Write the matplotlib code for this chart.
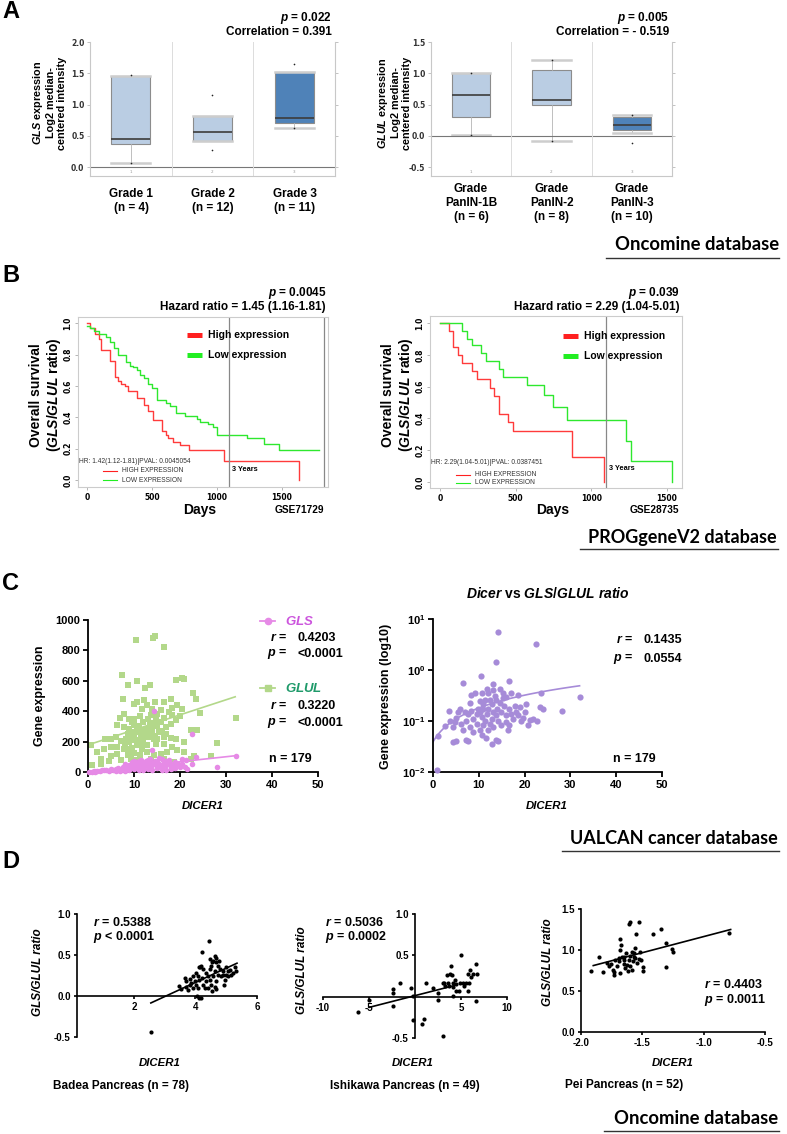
import numpy as np
import matplotlib.pyplot as plt
from matplotlib.lines import Line2D

W, H = 787, 1134
plt.rcParams['font.family'] = ['Liberation Sans', 'DejaVu Sans']
plt.rcParams['mathtext.fontset'] = 'custom'
plt.rcParams['mathtext.rm'] = 'Liberation Sans:bold'
plt.rcParams['mathtext.it'] = 'Liberation Sans:italic:bold'
plt.rcParams['mathtext.bf'] = 'Liberation Sans:bold'

# ---------------- data ----------------
# A: Oncomine box plots (q1, median, q3, whisker low, whisker high), plus min/max dots
gls_grades = ['Grade 1\n(n = 4)', 'Grade 2\n(n = 12)', 'Grade 3\n(n = 11)']
gls_q1 = [0.37, 0.42, 0.70]
gls_med = [0.45, 0.57, 0.78]
gls_q3 = [1.46, 0.82, 1.52]
gls_wlo = [0.07, 0.42, 0.63]
gls_whi = [1.46, 0.82, 1.52]
gls_dots = [[1.47, 0.07], [1.15, 0.27], [1.65, 0.62]]

glul_grades = ['Grade\nPanIN-1B\n(n = 6)', 'Grade\nPanIN-2\n(n = 8)', 'Grade\nPanIN-3\n(n = 10)']
glul_q1 = [0.30, 0.49, 0.10]
glul_med = [0.66, 0.57, 0.18]
glul_q3 = [1.01, 1.06, 0.30]
glul_wlo = [0.01, -0.08, 0.04]
glul_whi = [1.01, 1.21, 0.33]
glul_dots = [[1.01, 0.01], [1.21, -0.08], [0.33, -0.11]]

# B: Kaplan-Meier curves (days, survival)
km1_high_t = [0, 20, 59, 90, 111, 175, 214, 239, 265, 291, 316, 388, 440, 470, 509, 574, 605, 625, 659, 715, 787, 1057, 1628]
km1_high_s = [1.0, 0.97, 0.93, 0.90, 0.83, 0.76, 0.66, 0.63, 0.61, 0.60, 0.57, 0.52, 0.48, 0.44, 0.385, 0.31, 0.29, 0.27, 0.24, 0.22, 0.19, 0.12, 0.0]
km1_low_t = [0, 21, 54, 93, 149, 175, 208, 239, 298, 329, 355, 381, 406, 440, 466, 497, 535, 605, 638, 682, 754, 844, 870, 934, 972, 998, 1230, 1358, 1474, 1783]
km1_low_s = [0.98, 0.97, 0.95, 0.93, 0.91, 0.88, 0.84, 0.80, 0.75, 0.73, 0.72, 0.70, 0.67, 0.65, 0.61, 0.59, 0.51, 0.49, 0.47, 0.43, 0.41, 0.39, 0.37, 0.36, 0.34, 0.29, 0.27, 0.23, 0.19, 0.19]
km2_high_t = [0, 59, 88, 117, 145, 209, 242, 330, 358, 389, 451, 484, 869, 1082]
km2_high_s = [1.0, 0.95, 0.85, 0.80, 0.75, 0.70, 0.65, 0.59, 0.54, 0.43, 0.38, 0.32, 0.16, 0.0]
km2_low_t = [0, 147, 180, 209, 268, 303, 391, 418, 572, 688, 748, 842, 1232, 1260, 1535]
km2_low_s = [1.0, 0.95, 0.90, 0.86, 0.81, 0.76, 0.71, 0.66, 0.61, 0.55, 0.47, 0.39, 0.26, 0.13, 0.0]

# C: UALCAN scatter
glul_pts = [(10.4, 866), (14.2, 882), (14.6, 893), (16.5, 822), (7.3, 636), (10.7, 596), (8.6, 575), (13.5, 575),
            (12.3, 553), (19.2, 603), (20.5, 621), (20.9, 614), (22.9, 522), (23.4, 478), (7.5, 478), (9.9, 450),
            (10.7, 461), (12.2, 471), (14.5, 461), (16.5, 461), (18.0, 482), (19.4, 439), (20.5, 412), (18.3, 421),
            (17.6, 395), (15.8, 406), (14.0, 417), (12.9, 439), (11.8, 417), (7.8, 384), (7.0, 355), (8.9, 351),
            (10.0, 351), (11.3, 368), (13.6, 373), (15.1, 384), (16.5, 355), (18.3, 377), (20.1, 368), (24.3, 390),
            (32.1, 355), (6.4, 307), (7.8, 296), (8.9, 285), (10.0, 311), (10.7, 296), (11.8, 274), (12.9, 285),
            (14.0, 307), (14.7, 340), (15.8, 329), (16.9, 296), (18.0, 318), (19.1, 340), (8.6, 252), (10.0, 237),
            (11.1, 263), (12.5, 241), (13.6, 252), (15.4, 263), (16.5, 230), (18.0, 224), (19.1, 219), (20.9, 197),
            (22.3, 274), (23.6, 274), (4.9, 219), (6.0, 230), (7.1, 202), (8.2, 219), (9.3, 208), (11.8, 208),
            (14.3, 219), (3.8, 215), (0.6, 175), (3.5, 154), (4.9, 164), (6.4, 164), (7.8, 154), (9.6, 158),
            (10.7, 175), (11.8, 154), (12.9, 175), (14.7, 186), (16.5, 186), (18.3, 164), (19.4, 143), (20.9, 132),
            (28.1, 191), (2.0, 132), (2.8, 88), (4.9, 105), (6.4, 121), (8.6, 110), (10.0, 127), (11.4, 114),
            (12.9, 132), (14.3, 110), (15.8, 121), (17.2, 132), (22.3, 88), (26.7, 105), (0.9, 44), (2.8, 55),
            (4.6, 70), (7.1, 77), (9.3, 88), (10.7, 77), (13.6, 88), (16.5, 83), (23.0, 105), (18.7, 66),
            (9.0, 200), (10.0, 260), (11.0, 300), (12.0, 330), (13.0, 230), (14.0, 270), (15.0, 300), (9.5, 330),
            (12.0, 190), (13.0, 350), (15.0, 220), (10.5, 210), (11.5, 240), (12.5, 280), (13.5, 320), (14.5, 240),
            (8.0, 180), (9.0, 150), (16.0, 270), (17.0, 250)]
gls_pts = [(14.3, 399), (22.5, 252), (14.0, 143), (28.1, 33), (32.1, 105), (23.4, 99), (21.2, 77), (20.5, 88),
           (22.7, 55), (0.3, 2), (0.8, 3), (1.2, 5), (1.5, 2), (2.0, 8), (2.5, 5), (3.0, 12), (3.5, 10), (4.0, 15),
           (4.5, 8), (5.0, 18), (5.5, 12), (6.0, 20), (6.5, 25), (7.0, 15), (7.5, 30), (8.0, 22), (8.5, 35),
           (9.0, 28), (9.0, 45), (9.5, 40), (10.0, 30), (10.0, 55), (10.5, 60), (10.5, 42), (11.0, 35), (11.0, 70),
           (11.5, 50), (12.0, 25), (12.0, 62), (12.5, 45), (13.0, 55), (13.0, 80), (13.5, 38), (14.0, 60),
           (14.0, 48), (14.5, 72), (15.0, 40), (15.0, 65), (15.5, 55), (16.0, 30), (16.0, 85), (16.5, 50),
           (17.0, 70), (17.0, 45), (17.5, 60), (18.0, 35), (18.0, 55), (18.5, 40), (19.0, 65), (19.5, 50),
           (20.0, 45), (20.0, 30), (20.5, 55), (21.0, 35), (21.5, 20), (8.0, 50), (9.5, 65), (10.0, 75),
           (11.5, 80), (12.5, 70), (13.5, 85), (15.5, 90), (16.5, 75), (17.5, 80), (12.0, 10), (13.0, 20),
           (14.0, 15), (15.0, 25), (16.0, 12), (11.0, 15), (10.0, 18), (9.0, 10), (8.0, 8), (7.0, 5), (6.0, 6),
           (18.0, 20), (19.0, 25), (17.0, 15)]
ratio_pts = [(14.2, 5.6), (22.4, 3.3), (13.7, 1.44), (10.4, 0.76), (6.6, 0.55), (16.6, 0.60), (13.0, 0.54),
             (32.0, 0.30), (28.1, 0.16), (23.5, 0.35), (24.0, 0.175), (23.3, 0.19), (3.5, 0.16), (20.4, 0.22),
             (0.8, 0.011), (1.1, 0.05), (2.6, 0.08), (4.3, 0.039), (5.0, 0.040), (7.2, 0.042), (7.7, 0.040),
             (12.9, 0.035), (14.3, 0.040), (13.8, 0.042), (10.6, 0.052), (11.5, 0.047), (16.4, 0.066),
             (19.3, 0.10), (20.7, 0.083), (22.7, 0.10), (18.6, 0.33), (17.1, 0.35), (14.6, 0.42), (11.7, 0.42),
             (8.4, 0.33), (9.1, 0.36), (10.6, 0.36), (13.5, 0.31), (15.3, 0.35), (16.0, 0.30), (8.0, 0.23),
             (5.8, 0.17), (6.9, 0.15), (5.1, 0.115), (3.7, 0.10), (4.4, 0.076), (6.2, 0.089), (7.3, 0.10),
             (6.6, 0.066), (8.0, 0.076), (8.75, 0.060), (10.2, 0.066), (10.9, 0.083), (12.0, 0.066),
             (13.1, 0.076), (14.9, 0.083), (16.0, 0.096), (17.5, 0.11), (18.2, 0.15), (19.6, 0.115),
             (18.9, 0.19), (17.8, 0.20), (16.7, 0.17), (15.6, 0.20), (14.6, 0.23), (13.9, 0.17), (12.8, 0.22),
             (12.0, 0.17), (10.9, 0.22), (9.8, 0.17), (9.5, 0.14), (10.6, 0.12), (11.7, 0.14), (12.8, 0.11),
             (13.8, 0.13), (14.9, 0.15), (16.0, 0.13), (17.1, 0.14), (18.6, 0.13), (8.75, 0.11), (7.7, 0.14),
             (11.3, 0.10), (12.4, 0.089), (14.2, 0.10), (16.7, 0.083), (9.5, 0.089), (8.4, 0.16), (11.3, 0.26),
             (12.4, 0.26), (13.8, 0.26), (10.2, 0.25), (15.2, 0.28), (21.1, 0.107), (20.0, 0.15), (21.8, 0.11),
             (5.5, 0.15), (4.8, 0.096), (10.2, 0.15), (13.1, 0.15), (10.9, 0.17), (12.0, 0.35), (13.1, 0.40)]
gls_fit = (2.0, 3.28)      # intercept, slope
glul_fit = (178.0, 9.9)
ratio_fit = (0.039, 0.0141)
fit_x = [0, 32]

# D: Oncomine correlations
badea_pts = [(4.44, 0.675), (4.21, 0.54), (2.56, -0.44), (4.62, 0.49), (4.57, 0.43), (4.68, 0.41), (4.73, 0.37),
             (4.51, 0.37), (4.46, 0.33), (4.62, 0.30), (4.79, 0.33), (4.89, 0.30), (5.0, 0.35), (5.11, 0.32),
             (5.27, 0.35), (5.33, 0.30), (5.16, 0.26), (5.06, 0.24), (4.89, 0.26), (4.73, 0.26), (4.57, 0.24),
             (4.41, 0.24), (4.24, 0.33), (4.19, 0.37), (4.14, 0.35), (4.08, 0.24), (4.35, 0.18), (4.46, 0.20),
             (4.68, 0.18), (4.52, 0.14), (4.62, 0.11), (4.68, 0.08), (4.24, 0.14), (4.11, 0.20), (3.97, 0.18),
             (3.86, 0.16), (3.70, 0.18), (3.65, 0.22), (3.81, 0.14), (4.03, 0.13), (4.08, 0.10), (3.92, 0.10),
             (3.76, 0.07), (3.54, 0.09), (4.05, 0.0), (4.11, -0.03), (4.19, -0.02), (4.93, 0.13), (4.30, 0.10),
             (4.41, 0.10), (4.84, 0.24), (4.95, 0.20), (5.0, 0.26), (4.54, 0.41), (4.46, 0.45), (4.66, 0.46),
             (4.76, 0.43), (4.11, 0.35), (3.92, 0.24), (3.81, 0.21), (5.06, 0.30), (5.22, 0.28), (4.35, 0.28),
             (4.22, 0.22), (4.01, 0.28), (4.54, 0.06), (3.68, 0.11), (3.46, 0.12)]
ishikawa_pts = [(5.05, 0.50), (-4.98, -0.04), (-6.2, -0.19), (-2.35, 0.09), (-2.35, 0.04), (-2.35, -0.11),
                (-1.62, 0.16), (-0.43, 0.10), (-0.18, 0.01), (-0.18, -0.28), (0.72, -0.33), (1.01, -0.27),
                (1.16, 0.17), (1.99, 0.11), (2.53, 0.04), (2.53, -0.04), (3.07, -0.47), (3.14, 0.17), (3.43, 0.26),
                (3.79, 0.27), (3.86, 0.37), (3.61, 0.16), (4.08, 0.12), (4.08, 0.01), (4.51, 0.07), (4.80, 0.07),
                (4.33, 0.20), (4.87, 0.17), (5.23, 0.16), (5.52, 0.16), (5.78, 0.28), (5.88, 0.17), (6.14, 0.24),
                (6.32, 0.28), (6.61, 0.39), (6.68, -0.05), (6.75, 0.27), (5.78, 0.07), (3.25, 0.13), (3.72, 0.13),
                (4.15, 0.17), (5.31, 0.13), (5.96, 0.32), (3.0, 0.17), (4.5, 0.15), (3.97, 0.26)]
pei_pts = [(-1.916, 0.74), (-1.856, 0.915), (-1.824, 0.73), (-1.79, 0.84), (-1.756, 0.83), (-1.74, 0.76),
           (-1.73, 0.73), (-1.71, 0.80), (-1.69, 0.86), (-1.685, 0.72), (-1.68, 1.0), (-1.67, 1.065),
           (-1.68, 1.135), (-1.65, 0.83), (-1.647, 0.88), (-1.63, 0.96), (-1.626, 0.82), (-1.61, 0.88),
           (-1.604, 0.93), (-1.6, 0.80), (-1.607, 1.32), (-1.6, 1.34), (-1.585, 0.98), (-1.577, 0.87),
           (-1.57, 0.92), (-1.558, 1.02), (-1.558, 0.90), (-1.53, 0.89), (-1.53, 1.34), (-1.55, 1.19),
           (-1.51, 0.88), (-1.517, 0.98), (-1.496, 0.79), (-1.496, 0.74), (-1.417, 1.19), (-1.35, 1.26),
           (-1.306, 1.085), (-1.306, 0.79), (-1.26, 1.01), (-1.246, 0.98), (-0.793, 1.21), (-1.72, 0.88),
           (-1.666, 0.92), (-1.64, 0.78), (-1.69, 0.90), (-1.544, 0.84), (-1.585, 0.76), (-1.734, 0.70),
           (-1.775, 0.80), (-1.62, 0.74), (-1.566, 0.96), (-1.653, 0.92)]
badea_fit_x, badea_fit_y = [2.55, 5.35], [-0.085, 0.40]
ishikawa_fit_x, ishikawa_fit_y = [-5.0, 4.3], [-0.13, 0.135]
pei_fit_x, pei_fit_y = [-1.9, -0.78], [0.81, 1.25]

# ---------------- helpers ----------------
fig = plt.figure(figsize=(W / 100, H / 100), dpi=100)


def add_ax(x0, y0, x1, y1):
    return fig.add_axes([x0 / W, 1 - y1 / H, (x1 - x0) / W, (y1 - y0) / H])


def ftext(x, y, s, **kw):
    kw.setdefault('va', 'center')
    kw.setdefault('fontweight', 'bold')
    kw.setdefault('fontsize', 8.5)
    fig.text(x / W, 1 - y / H, s, **kw)


def fline(x0, x1, y, **kw):
    fig.add_artist(Line2D([x0 / W, x1 / W], [1 - y / H, 1 - y / H], transform=fig.transFigure, **kw))


def oncomine_box(ax, q1, med, q3, wlo, whi, dots, ylim, yticks):
    stats = [dict(q1=a, med=b, q3=c, whislo=d, whishi=e, fliers=[]) for a, b, c, d, e in zip(q1, med, q3, wlo, whi)]
    bx = ax.bxp(stats, positions=[1, 2, 3], widths=0.48, patch_artist=True, showfliers=False, capwidths=0.48,
                boxprops=dict(edgecolor='#8c8c8c', linewidth=0.8),
                medianprops=dict(color='#3c3c3c', linewidth=1.2),
                whiskerprops=dict(color='#b4b4b4', linewidth=0.6),
                capprops=dict(color='#cdcdcd', linewidth=1.8), manage_ticks=False)
    for i, p in enumerate(bx['boxes']):
        p.set_facecolor('#4f82b8' if i == 2 else '#bacde3')
    for i, d in enumerate(dots):
        ax.plot([i + 1] * len(d), d, 'o', color='#222222', ms=1.2, mew=0)
    ax.axhline(0, color='#777777', lw=0.8)
    for xs in (1.5, 2.5):
        ax.axvline(xs, color='#dcdcdc', lw=0.7)
    ax.set_xlim(0.5, 3.5)
    ax.set_ylim(*ylim)
    ax.set_xticks([])
    ax.set_yticks(yticks)
    ax.set_yticklabels(['%.1f' % v for v in yticks], fontsize=5.5, fontweight='bold', family='DejaVu Sans',
                       color='#333333')
    ax.tick_params(axis='y', length=2, width=0.5, color='#aaaaaa', pad=2, right=True)
    ax.spines['top'].set_visible(False)
    for s in ('left', 'right', 'bottom'):
        ax.spines[s].set_color('#c8c8c8')
        ax.spines[s].set_linewidth(0.8)
    for i in range(3):
        ax.text(i + 1, ylim[0] + 0.03 * (ylim[1] - ylim[0]), str(i + 1), fontsize=3, color='#999999',
                ha='center', va='center', family='DejaVu Sans')


def km_panel(ax, high_t, high_s, low_t, low_s, xlim, ylim, five_year):
    ax.step(high_t, high_s, where='post', color='#ff3b3b', lw=1.0)
    ax.step(low_t, low_s, where='post', color='#2ee82e', lw=1.0)
    ax.axvline(1095, color='#888888', lw=0.9)
    if five_year:
        ax.axvline(1825, color='#888888', lw=0.9)
    ax.set_xlim(*xlim)
    ax.set_ylim(*ylim)
    ax.set_xticks([0, 500, 1000, 1500])
    ax.set_yticks([0, 0.2, 0.4, 0.6, 0.8, 1.0])
    ax.set_xticklabels(['0', '500', '1000', '1500'], fontsize=5.5, fontweight='bold', family='DejaVu Sans')
    ax.set_yticklabels(['0.0', '0.2', '0.4', '0.6', '0.8', '1.0'], fontsize=5.5, fontweight='bold',
                       family='DejaVu Sans', rotation=90, va='center')
    ax.tick_params(length=2, width=0.5, color='#999999', pad=2)
    for s in ax.spines.values():
        s.set_color('#cccccc')
        s.set_linewidth(0.8)


def prism_axes(ax, lw=1.3):
    ax.spines['top'].set_visible(False)
    ax.spines['right'].set_visible(False)
    for s in ('left', 'bottom'):
        ax.spines[s].set_linewidth(lw)
        ax.spines[s].set_color('black')
    ax.tick_params(direction='out', length=3.5, width=lw, pad=2)


# ---------------- A ----------------
ftext(2, 11, 'A', fontsize=17)
axA1 = add_ax(90, 42, 335, 176)
oncomine_box(axA1, gls_q1, gls_med, gls_q3, gls_wlo, gls_whi, gls_dots, (-0.14, 2.0), [0.0, 0.5, 1.0, 1.5, 2.0])
axA2 = add_ax(431, 42, 672, 176)
oncomine_box(axA2, glul_q1, glul_med, glul_q3, glul_wlo, glul_whi, glul_dots, (-0.64, 1.5), [-0.5, 0.0, 0.5, 1.0, 1.5])

ftext(332, 18, '$p$ = 0.022', ha='right')
ftext(332, 32, 'Correlation = 0.391', ha='right')
ftext(669, 18, '$p$ = 0.005', ha='right')
ftext(669, 32, 'Correlation = - 0.519', ha='right')
ftext(49, 103, '$GLS$ expression\nLog2 median-\ncentered intensity', rotation=90, ha='center',
      multialignment='center', fontsize=7.8, linespacing=1.1)
ftext(394, 103, '$GLUL$ expression\nLog2 median-\ncentered intensity', rotation=90, ha='center',
      multialignment='center', fontsize=7.8, linespacing=1.1)
for cx, lab in zip([131, 213, 295], gls_grades):
    ftext(cx, 201, lab, ha='center', multialignment='center', linespacing=1.25)
for cx, lab in zip([471, 552, 632], glul_grades):
    ftext(cx, 203, lab, ha='center', multialignment='center', linespacing=1.25)
ftext(779, 244, 'Oncomine database', ha='right', fontsize=13.3, family='Lato')
fline(606, 779, 258, color='#333333', lw=1.0)

# ---------------- B ----------------
ftext(2, 275, 'B', fontsize=17)
axB1 = add_ax(78, 317, 328, 487)
km_panel(axB1, km1_high_t, km1_high_s, km1_low_t, km1_low_s, (-69, 1854), (-0.045, 1.04), True)
axB2 = add_ax(430, 316, 682, 488)
km_panel(axB2, km2_high_t, km2_high_s, km2_low_t, km2_low_s, (-66, 1599), (-0.038, 1.044), False)

ftext(326, 293, '$p$ = 0.0045', ha='right')
ftext(326, 307, 'Hazard ratio = 1.45 (1.16-1.81)', ha='right')
ftext(680, 293, '$p$ = 0.039', ha='right')
ftext(680, 307, 'Hazard ratio = 2.29 (1.04-5.01)', ha='right')
for x, y in [(46, 395), (398, 395)]:
    ftext(x, y, 'Overall survival\n($GLS/GLUL$ ratio)', rotation=90, ha='center', multialignment='center',
          fontsize=10, linespacing=1.1)
for (bx0, by, tx), (gse, dx, gx) in zip([(187, 335, 208), (563, 336, 584)],
                                        [('GSE71729', 200, 324), ('GSE28735', 553, 679)]):
    fline(bx0, bx0 + 15, by, color='#ff2020', lw=3.6, solid_capstyle='butt')
    fline(bx0, bx0 + 15, by + 20, color='#22ee22', lw=3.6, solid_capstyle='butt')
    ftext(tx, by, 'High expression', fontsize=7.5)
    ftext(tx, by + 20, 'Low expression', fontsize=7.5)
    ftext(dx, 510, 'Days', ha='center', fontsize=10)
    ftext(gx, 510, gse, ha='right', fontsize=7.3)
ftext(79, 461, 'HR: 1.42(1.12-1.81)|PVAL: 0.0045054', fontsize=4.8, fontweight='normal', color='#333333')
fline(103, 117, 471, color='#ff2020', lw=0.8)
fline(103, 117, 480, color='#22ee22', lw=0.8)
ftext(122, 471, 'HIGH EXPRESSION', fontsize=4.8, fontweight='normal', color='#333333')
ftext(122, 480, 'LOW EXPRESSION', fontsize=4.8, fontweight='normal', color='#333333')
ftext(232, 469, '3 Years', fontsize=5.3)
ftext(431, 463, 'HR: 2.29(1.04-5.01)|PVAL: 0.0387451', fontsize=4.8, fontweight='normal', color='#333333')
fline(456, 470, 475, color='#ff2020', lw=0.8)
fline(456, 470, 483, color='#22ee22', lw=0.8)
ftext(475, 475, 'HIGH EXPRESSION', fontsize=4.8, fontweight='normal', color='#333333')
ftext(475, 483, 'LOW EXPRESSION', fontsize=4.8, fontweight='normal', color='#333333')
ftext(609, 468, '3 Years', fontsize=5.3)
ftext(777, 538, 'PROGgeneV2 database', ha='right', fontsize=13, family='Lato')
fline(580, 778, 549, color='#333333', lw=1.0)

# ---------------- C ----------------
ftext(2, 583, 'C', fontsize=17)
pink, green, purple = '#e68ae6', '#b3d88a', '#a68bd8'
axC1 = add_ax(88, 620, 318, 772)
gx_, gy_ = zip(*glul_pts)
px_, py_ = zip(*gls_pts)
axC1.scatter(gx_, gy_, marker='s', s=15, color=green, lw=0, clip_on=False, zorder=2)
axC1.scatter(px_, py_, marker='o', s=16, color=pink, lw=0, clip_on=False, zorder=3)
fx = np.array(fit_x)
axC1.plot(fx, glul_fit[0] + glul_fit[1] * fx, color=green, lw=1.2, zorder=2)
axC1.plot(fx, gls_fit[0] + gls_fit[1] * fx, color=pink, lw=1.2, zorder=3)
axC1.set_xlim(0, 50)
axC1.set_ylim(0, 1000)
axC1.set_xticks(range(0, 51, 10))
axC1.set_yticks(range(0, 1001, 200))
prism_axes(axC1)
for lab in axC1.get_xticklabels() + axC1.get_yticklabels():
    lab.set_fontweight('bold')
    lab.set_fontsize(8)
ftext(40, 696, 'Gene expression', rotation=90, ha='center', fontsize=9)
ftext(203, 806, 'DICER1', ha='center', fontsize=8.2, fontstyle='italic')

fline(260, 275, 621, color=pink, lw=1.3)
fig.add_artist(Line2D([267.5 / W], [1 - 621 / H], marker='o', ms=4.5, color=pink, transform=fig.transFigure))
ftext(285, 621, '$GLS$', color='#cc55dd', fontsize=9.5)
ftext(287, 638, '$r$ =', ha='right', fontsize=9)
ftext(298, 638, '0.4203', fontsize=9)
ftext(287, 654, '$p$ =', ha='right', fontsize=9)
ftext(298, 654, '<0.0001', fontsize=9)
fline(260, 275, 688, color=green, lw=1.3)
fig.add_artist(Line2D([267.5 / W], [1 - 688 / H], marker='s', ms=4.5, color=green, transform=fig.transFigure))
ftext(285, 688, '$GLUL$', color='#1f9a6a', fontsize=9.5)
ftext(287, 706, '$r$ =', ha='right', fontsize=9)
ftext(298, 706, '0.3220', fontsize=9)
ftext(287, 723, '$p$ =', ha='right', fontsize=9)
ftext(298, 723, '<0.0001', fontsize=9)
ftext(269, 759, 'n = 179', fontsize=9)

axC2 = add_ax(433, 619, 662, 772)
rx_, ry_ = zip(*ratio_pts)
axC2.scatter(rx_, ry_, s=20, color=purple, lw=0, clip_on=False, zorder=3)
fxx = np.linspace(0, 32, 60)
axC2.plot(fxx, ratio_fit[0] + ratio_fit[1] * fxx, color=purple, lw=1.2, zorder=2)
axC2.set_yscale('log')
axC2.set_xlim(0, 50)
axC2.set_ylim(0.01, 10)
axC2.set_xticks(range(0, 51, 10))
axC2.set_yticks([0.01, 0.1, 1, 10])
axC2.set_yticklabels(['$10^{-2}$', '$10^{-1}$', '$10^{0}$', '$10^{1}$'])
axC2.minorticks_off()
prism_axes(axC2)
for lab in axC2.get_xticklabels() + axC2.get_yticklabels():
    lab.set_fontweight('bold')
    lab.set_fontsize(8)
ftext(386, 696, 'Gene expression (log10)', rotation=90, ha='center', fontsize=9)
ftext(547, 806, 'DICER1', ha='center', fontsize=8.2, fontstyle='italic')
ftext(548, 594, '$Dicer$ vs $GLS/GLUL\\ ratio$', ha='center', fontsize=10)
ftext(633, 640, '$r$ =', ha='right', fontsize=9)
ftext(643, 640, '0.1435', fontsize=9)
ftext(633, 659, '$p$ =', ha='right', fontsize=9)
ftext(643, 659, '0.0554', fontsize=9)
ftext(613, 759, 'n = 179', fontsize=9)
ftext(778, 838, 'UALCAN cancer database', ha='right', fontsize=13, family='Lato')
fline(562, 779, 851, color='#333333', lw=1.0)

# ---------------- D ----------------
ftext(2, 862, 'D', fontsize=17)


def d_panel(ax, pts, fx, fy, xlim, ylim, xticks, yticks, cross_y=None):
    x, y = zip(*pts)
    ax.scatter(x, y, s=9, color='black', lw=0, clip_on=False, zorder=3)
    ax.plot(fx, fy, color='black', lw=1.2, zorder=2)
    ax.set_xlim(*xlim)
    ax.set_ylim(*ylim)
    prism_axes(ax, lw=1.2)
    ax.tick_params(length=2.5)
    if cross_y is not None:
        ax.spines['bottom'].set_position(('data', 0))
    if cross_y == 'both':
        ax.spines['left'].set_position(('data', 0))
    ax.set_xticks(xticks)
    ax.set_yticks(yticks)
    ax.set_xticklabels([('%g' % v) if abs(v) >= 2 else ('%.1f' % v) for v in xticks], fontsize=7,
                       fontweight='bold')
    ax.set_yticklabels(['%.1f' % v for v in yticks], fontsize=7, fontweight='bold')


axD1 = add_ax(77, 914, 257, 1037)
d_panel(axD1, badea_pts, badea_fit_x, badea_fit_y, (0.15, 6), (-0.5, 1.0), [2, 4, 6], [-0.5, 0.0, 0.5, 1.0], 'x')
axD2 = add_ax(323, 914, 507, 1038)
d_panel(axD2, ishikawa_pts, ishikawa_fit_x, ishikawa_fit_y, (-10, 10), (-0.5, 1.0), [-10, -5, 5, 10],
        [-0.5, 0.5, 1.0], 'both')
axD3 = add_ax(581, 909, 765, 1032)
d_panel(axD3, pei_pts, pei_fit_x, pei_fit_y, (-2.0, -0.5), (0, 1.5), [-2.0, -1.5, -1.0, -0.5],
        [0.0, 0.5, 1.0, 1.5])
axD3.set_xticklabels(['-2.0', '-1.5', '-1.0', '-0.5'], fontsize=7, fontweight='bold')

ftext(93, 923, '$r$ = 0.5388', fontsize=9)
ftext(93, 937, '$p$ < 0.0001', fontsize=9)
ftext(325, 923, '$r$ = 0.5036', fontsize=9)
ftext(325, 937, '$p$ = 0.0002', fontsize=9)
ftext(704, 985, '$r$ = 0.4403', fontsize=9)
ftext(704, 1000, '$p$ = 0.0011', fontsize=9)
for x, y in [(38, 972), (302, 970), (548, 962)]:
    ftext(x, y, 'GLS/GLUL ratio', rotation=90, ha='center', fontsize=8.5, fontstyle='italic')
for x in (160, 413, 673):
    ftext(x, 1063, 'DICER1', ha='center', fontsize=8.2, fontstyle='italic')
ftext(53, 1086, 'Badea Pancreas (n = 78)')
ftext(405, 1086, 'Ishikawa Pancreas (n = 49)', ha='center')
ftext(565, 1085, 'Pei Pancreas (n = 52)')
ftext(778, 1119, 'Oncomine database', ha='right', fontsize=13.3, family='Lato')
fline(604, 779, 1131, color='#333333', lw=1.0)

fig.savefig('out.png', dpi=100, facecolor='white')
